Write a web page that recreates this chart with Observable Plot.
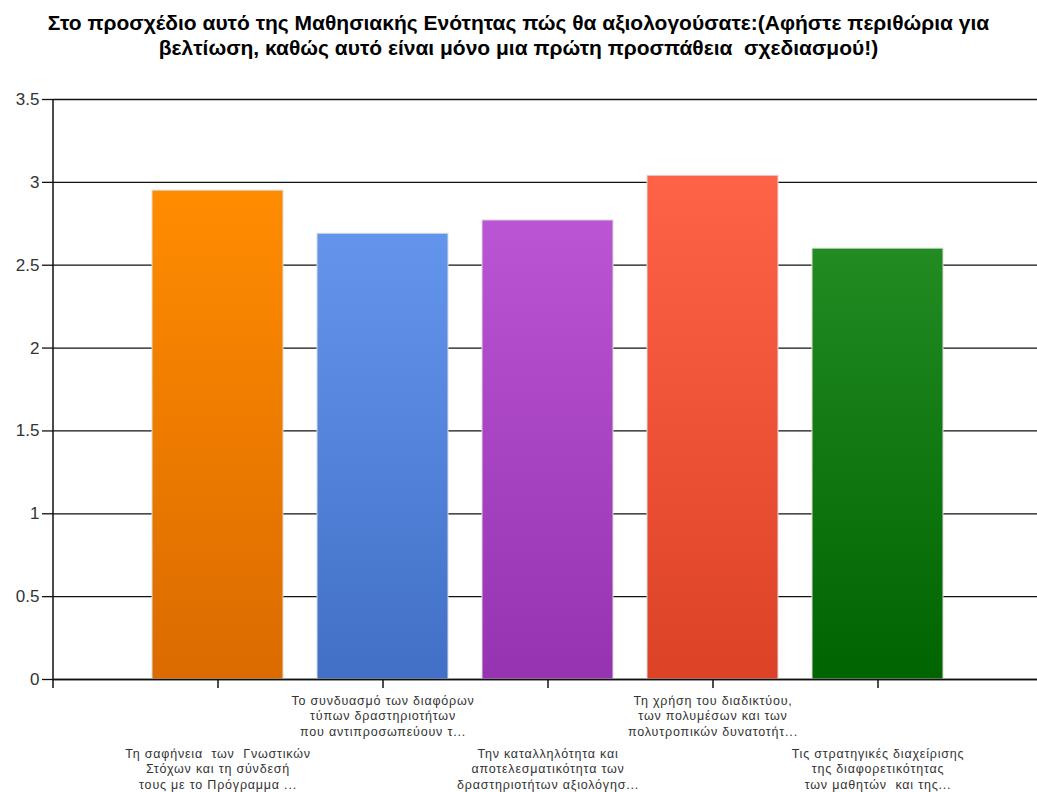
<!DOCTYPE html>
<html>
<head>
<meta charset="utf-8">
<script src="https://cdn.jsdelivr.net/npm/d3@7"></script>
<script src="https://cdn.jsdelivr.net/npm/@observablehq/plot@0.6"></script>
<style>
  html, body { margin: 0; padding: 0; background: #fff; }
  #title {
    width: 1037px; height: 60px; box-sizing: border-box; padding-top: 10px;
    font-family: "Liberation Sans", Arial, sans-serif; font-weight: bold;
    font-size: 21px; line-height: 25px; text-align: center; color: #000;
  }
  #chart svg { display: block; }
  #chart g[aria-label="text"] { letter-spacing: 0.8px; }
</style>
</head>
<body>
<div id="title">Στο προσχέδιο αυτό της Μαθησιακής Ενότητας πώς θα αξιολογούσατε:(Αφήστε περιθώρια για<br>βελτίωση, καθώς αυτό είναι μόνο μια πρώτη προσπάθεια &nbsp;σχεδιασμού!)</div>
<div id="chart"></div>
<script>
const categories = [
  "Τη σαφήνεια  των  Γνωστικών\nΣτόχων και τη σύνδεσή\nτους με το Πρόγραμμα ...",
  "Το συνδυασμό των διαφόρων\nτύπων δραστηριοτήτων\nπου αντιπροσωπεύουν τ...",
  "Την καταλληλότητα και\nαποτελεσματικότητα των\nδραστηριοτήτων αξιολόγησ...",
  "Τη χρήση του διαδικτύου,\nτων πολυμέσων και των\nπολυτροπικών δυνατοτήτ...",
  "Τις στρατηγικές διαχείρισης\nτης διαφορετικότητας\nτων μαθητών  και της..."
];
const values = [2.95, 2.69, 2.77, 3.04, 2.6];
const yTicks = [0, 0.5, 1, 1.5, 2, 2.5, 3, 3.5];
const topColors = ["#ff8c00", "#6495ed", "#ba55d3", "#ff6347", "#228b22"];
const bottomColors = ["#db6b00", "#4170c6", "#9533b0", "#dc4225", "#006400"];

const data = categories.map((c, i) => ({category: c, value: values[i], idx: i}));

function gradientDefs() {
  const defs = d3.create("svg:defs");
  topColors.forEach((c, i) => {
    const g = defs.append("linearGradient")
      .attr("id", "barGrad" + i)
      .attr("x1", 0).attr("y1", 0).attr("x2", 0).attr("y2", 1);
    g.append("stop").attr("offset", "0%").attr("stop-color", c);
    g.append("stop").attr("offset", "100%").attr("stop-color", bottomColors[i]);
  });
  return defs.node();
}

function yAxisLine(index, scales, values, dimensions) {
  const x = dimensions.marginLeft;
  return d3.create("svg:line")
    .attr("x1", x).attr("x2", x)
    .attr("y1", scales.y(3.5)).attr("y2", scales.y(0) + 9)
    .attr("stroke", "#111").attr("stroke-width", 1.5)
    .node();
}

const chart = Plot.plot({
  width: 1037,
  height: 732,
  marginTop: 39,
  marginBottom: 113,
  marginLeft: 53,
  marginRight: 0,
  style: {fontFamily: "'Liberation Sans', Arial, sans-serif", background: "#fff"},
  x: {domain: categories, range: [53, 1043], paddingInner: 0.206, paddingOuter: 0.603, axis: null},
  y: {domain: [0, 3.5], axis: null},
  color: {type: "identity"},
  marks: [
    gradientDefs,
    Plot.ruleY(yTicks, {stroke: "#111", strokeWidth: 1.3}),
    Plot.barY(data, {x: "category", y: "value", fill: d => `url(#barGrad${d.idx})`, stroke: "#dcdcdc", strokeWidth: 1}),
    Plot.ruleY([0], {stroke: "#111", strokeWidth: 1.5}),
    yAxisLine,
    Plot.axisY({ticks: yTicks, tickSize: 11, tickPadding: 3, fontSize: 17, tickFormat: d => String(d), stroke: "#111", color: "#333", strokeWidth: 1.3, label: null}),
    Plot.axisX({ticks: categories, tickSize: 9, tickFormat: () => "", stroke: "#111", strokeWidth: 1.5, label: null}),
    Plot.text(data.filter(d => d.idx % 2 === 1), {x: "category", text: "category", frameAnchor: "bottom", lineAnchor: "top", dy: 14, fontSize: 12.5, lineHeight: 1.25, fill: "#333", textAnchor: "middle"}),
    Plot.text(data.filter(d => d.idx % 2 === 0), {x: "category", text: "category", frameAnchor: "bottom", lineAnchor: "top", dy: 67, fontSize: 12.5, lineHeight: 1.25, fill: "#333", textAnchor: "middle"})
  ]
});
document.getElementById("chart").appendChild(chart);
</script>
</body>
</html>
